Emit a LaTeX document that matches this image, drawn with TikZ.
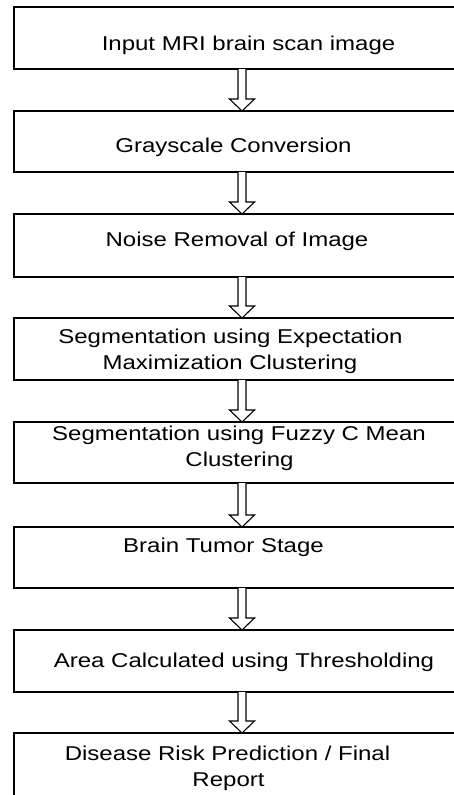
\documentclass[tikz,border=0pt]{standalone}
\usepackage{fontspec}
\setmainfont[FakeStretch=1.2]{Liberation Sans}
\usetikzlibrary{calc}
\begin{document}
\begin{tikzpicture}[x=1pt,y=-1pt,
  box/.style={draw=black,line width=1.6pt,fill=white,minimum width=456pt,inner sep=0pt,outer sep=0pt},
  txt/.style={anchor=base,inner sep=0pt,font=\fontsize{20pt}{26pt}\selectfont},
  blk/.style={draw=black,line width=1.1pt,fill=white,line join=miter}]
\useasboundingbox (0,0) rectangle (454,795);
\clip (0,0) rectangle (454,795);
\fill[white] (0,0) rectangle (454,795);
\node[box,minimum height=62pt] (b1) at (242,38) {};
\node[box,minimum height=61pt] (b2) at (242,141.5) {};
\node[box,minimum height=63pt] (b3) at (242,245.5) {};
\node[box,minimum height=62pt] (b4) at (242,349) {};
\node[box,minimum height=61pt] (b5) at (242,452.5) {};
\node[box,minimum height=61pt] (b6) at (242,557.5) {};
\node[box,minimum height=62pt] (b7) at (242,661) {};
\node[box,minimum height=64pt] (b8) at (242,765) {};
\node[txt] (t1) at (248.5,50) {Input MRI brain scan image};
\node[txt] (t2) at (233.5,152) {Grayscale Conversion};
\node[txt] (t3) at (237,246) {Noise Removal of Image};
\node[txt] (t4a) at (230.5,343) {Segmentation using Expectation};
\node[txt] (t4b) at (230,369) {Maximization Clustering};
\node[txt] (t5a) at (239,440) {Segmentation using Fuzzy C Mean};
\node[txt] (t5b) at (239.5,466) {Clustering};
\node[txt] (t6) at (223.5,552) {Brain Tumor Stage};
\node[txt] (t7) at (244,667) {Area Calculated using Thresholding};
\node[txt] (t8a) at (227.5,760) {Disease Risk Prediction / Final};
\node[txt] (t8b) at (228.5,786) {Report};
\foreach \a/\b in {b1/b2,b2/b3,b3/b4,b4/b5,b5/b6,b6/b7,b7/b8}{
  \draw[blk] ($(\a.south)+(-4,0)$) -- ($(\b.north)+(-4,-12)$) -- ($(\b.north)+(-12.5,-12)$)
    -- (\b.north) -- ($(\b.north)+(12.5,-12)$) -- ($(\b.north)+(4,-12)$) -- ($(\a.south)+(4,0)$);
}
\end{tikzpicture}
\end{document}
